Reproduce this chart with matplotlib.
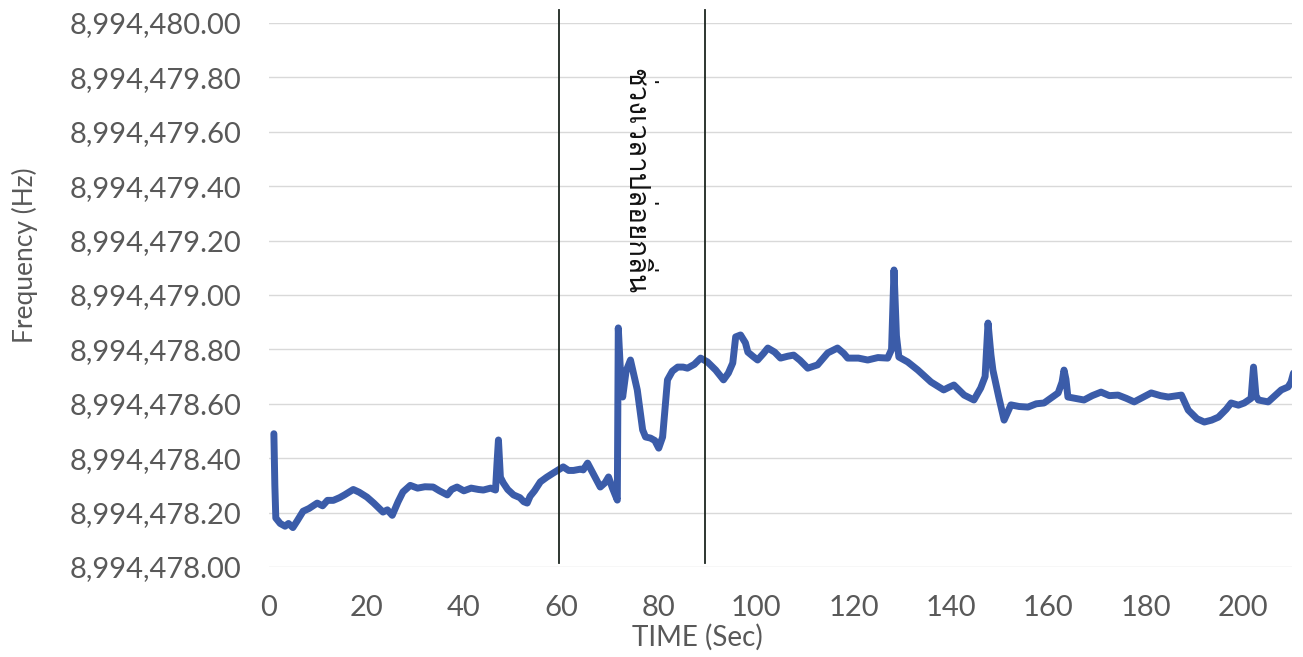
import numpy as np
import matplotlib
matplotlib.use("Agg")
import matplotlib.pyplot as plt
from matplotlib import font_manager
from matplotlib.ft2font import FT2Font
from matplotlib.ticker import FuncFormatter

# เวลา (วินาที) และความถี่ที่อ่านได้ (Hz)
time_s = [
    1.0, 1.2, 1.4, 2.3, 3.3, 4.0, 4.9, 5.8, 7.0, 8.2, 9.9, 11.0, 12.0, 13.2,
    14.5, 15.5, 17.3, 18.5, 20.1, 21.5, 23.4, 24.3, 25.3, 26.5, 27.5, 29.0,
    30.5, 32.0, 33.7, 35.0, 36.6, 37.5, 38.6, 40.0, 41.5, 43.0, 44.0, 45.5,
    46.5, 46.8, 47.1, 47.5, 48.1, 49.0, 50.2, 51.5, 52.3, 53.0, 53.6, 54.5,
    55.7, 57.0, 58.4, 60.4, 61.5, 62.5, 64.0, 64.5, 65.4, 66.5, 68.0, 69.0,
    69.7, 70.5, 71.5, 71.7, 72.2, 72.6, 73.3, 74.2, 75.6, 76.7, 77.3, 78.3,
    79.2, 80.0, 80.8, 81.8, 82.8, 83.9, 85.0, 85.9, 87.3, 88.6, 90.0, 91.7,
    93.3, 94.3, 95.2, 95.8, 96.8, 97.8, 98.3, 99.3, 100.3, 101.5, 102.4,
    103.8, 105.0, 106.5, 107.7, 109.0, 110.6, 112.6, 114.7, 116.7, 118.0,
    118.8, 121.0, 122.9, 125.0, 127.0, 127.8, 128.3, 128.8, 129.3, 131.1,
    133.2, 135.9, 138.5, 139.5, 140.6, 142.7, 144.7, 146.1, 147.0, 147.6,
    148.2, 148.6, 149.8, 150.9, 152.3, 154.0, 155.8, 157.5, 159.1, 162.0,
    162.8, 163.2, 163.6, 164.0, 167.3, 169.0, 170.8, 172.5, 174.3, 176.0,
    177.6, 179.5, 181.1, 183.0, 184.6, 187.3, 188.7, 190.5, 192.0, 193.5,
    194.9, 196.5, 197.5, 199.0, 200.2, 201.6, 202.1, 202.6, 203.1, 205.1,
    206.5, 207.8, 209.2, 209.8, 210.3,
]
freq_hz = [
    8994478.490, 8994478.300, 8994478.180, 8994478.160, 8994478.150,
    8994478.160, 8994478.145, 8994478.170, 8994478.205, 8994478.215,
    8994478.235, 8994478.225, 8994478.245, 8994478.245, 8994478.255,
    8994478.265, 8994478.285, 8994478.275, 8994478.257, 8994478.235,
    8994478.202, 8994478.210, 8994478.190, 8994478.240, 8994478.276,
    8994478.300, 8994478.290, 8994478.295, 8994478.294, 8994478.280,
    8994478.265, 8994478.285, 8994478.294, 8994478.280, 8994478.290,
    8994478.285, 8994478.283, 8994478.290, 8994478.283, 8994478.380,
    8994478.467, 8994478.330, 8994478.309, 8994478.285, 8994478.265,
    8994478.255, 8994478.240, 8994478.235, 8994478.260, 8994478.280,
    8994478.313, 8994478.330, 8994478.346, 8994478.368, 8994478.355,
    8994478.355, 8994478.360, 8994478.357, 8994478.382, 8994478.345,
    8994478.294, 8994478.310, 8994478.331, 8994478.290, 8994478.246,
    8994478.879, 8994478.700, 8994478.625, 8994478.720, 8994478.761,
    8994478.651, 8994478.504, 8994478.478, 8994478.474, 8994478.465,
    8994478.437, 8994478.478, 8994478.688, 8994478.720, 8994478.735,
    8994478.735, 8994478.731, 8994478.745, 8994478.768, 8994478.754,
    8994478.724, 8994478.688, 8994478.713, 8994478.750, 8994478.846,
    8994478.853, 8994478.824, 8994478.790, 8994478.775, 8994478.761,
    8994478.785, 8994478.805, 8994478.790, 8994478.768, 8994478.775,
    8994478.779, 8994478.760, 8994478.731, 8994478.743, 8994478.787,
    8994478.805, 8994478.785, 8994478.768, 8994478.768, 8994478.761,
    8994478.770, 8994478.768, 8994478.800, 8994479.092, 8994478.850,
    8994478.772, 8994478.754, 8994478.724, 8994478.680, 8994478.651,
    8994478.660, 8994478.669, 8994478.632, 8994478.614, 8994478.658,
    8994478.700, 8994478.897, 8994478.780, 8994478.724, 8994478.625,
    8994478.540, 8994478.596, 8994478.590, 8994478.588, 8994478.600,
    8994478.603, 8994478.640, 8994478.680, 8994478.724, 8994478.690,
    8994478.625, 8994478.614, 8994478.630, 8994478.643, 8994478.630,
    8994478.632, 8994478.620, 8994478.607, 8994478.625, 8994478.640,
    8994478.630, 8994478.625, 8994478.632, 8994478.577, 8994478.545,
    8994478.533, 8994478.540, 8994478.551, 8994478.580, 8994478.603,
    8994478.595, 8994478.603, 8994478.620, 8994478.735, 8994478.630,
    8994478.614, 8994478.607, 8994478.630, 8994478.651, 8994478.662,
    8994478.680, 8994478.713,
]

# ขอบเขตช่วงเวลาปล่อยกลิ่น
window_s = [59.5, 89.6]
window_label = "ช่วงเวลาปล่อยกลิ่น"

y_ticks = [8994478.0 + 0.2 * i for i in range(11)]
x_ticks = list(range(0, 201, 20))


def thai_family():
    # หาฟอนต์ที่มีอักษรไทย
    for f in font_manager.fontManager.ttflist:
        try:
            if 0x0E0A in FT2Font(f.fname).get_charmap():
                return f.name
        except Exception:
            pass
    return "DejaVu Sans"


plt.rcParams["font.family"] = ["Lato", "DejaVu Sans"]

fig = plt.figure(figsize=(13.03, 6.57), dpi=100)
ax = fig.add_axes([269 / 1303, 1 - 567 / 657, (1292 - 269) / 1303, (567 - 23) / 657])

ax.plot(time_s, freq_hz, color="#3b5ca9", lw=5.0,
        solid_joinstyle="round", solid_capstyle="round", zorder=3)

for x in window_s:
    ax.plot([x, x], [8994478.015, 8994480.047], color="#1c2620", lw=1.3,
            clip_on=False, zorder=4)

ax.text(75.3, 8994479.42, window_label, rotation=-90, ha="center", va="center",
        fontsize=20, color="#111111", family=[thai_family(), "DejaVu Sans"])

ax.set_xlim(0, 210)
ax.set_ylim(8994478.0, 8994480.0)
ax.set_xticks(x_ticks)
ax.set_yticks(y_ticks)
ax.yaxis.set_major_formatter(FuncFormatter(lambda v, _: f"{v:,.2f}"))
ax.yaxis.grid(True, color="#d9d9d9", lw=1.0, zorder=0)
ax.set_axisbelow(True)
for s in ax.spines.values():
    s.set_visible(False)
ax.tick_params(axis="both", length=0, labelsize=21, labelcolor="#595959")
ax.tick_params(axis="y", pad=20)
ax.tick_params(axis="x", pad=20)

fig.text(25 / 1303, 1 - 255 / 657, "Frequency (Hz)", rotation=90, ha="center",
         va="center", fontsize=19, color="#595959")
fig.text(697 / 1303, 1 - 637 / 657, "TIME (Sec)", ha="center", va="center",
         fontsize=20, color="#595959")

fig.savefig("out.png", dpi=100, facecolor="white")
